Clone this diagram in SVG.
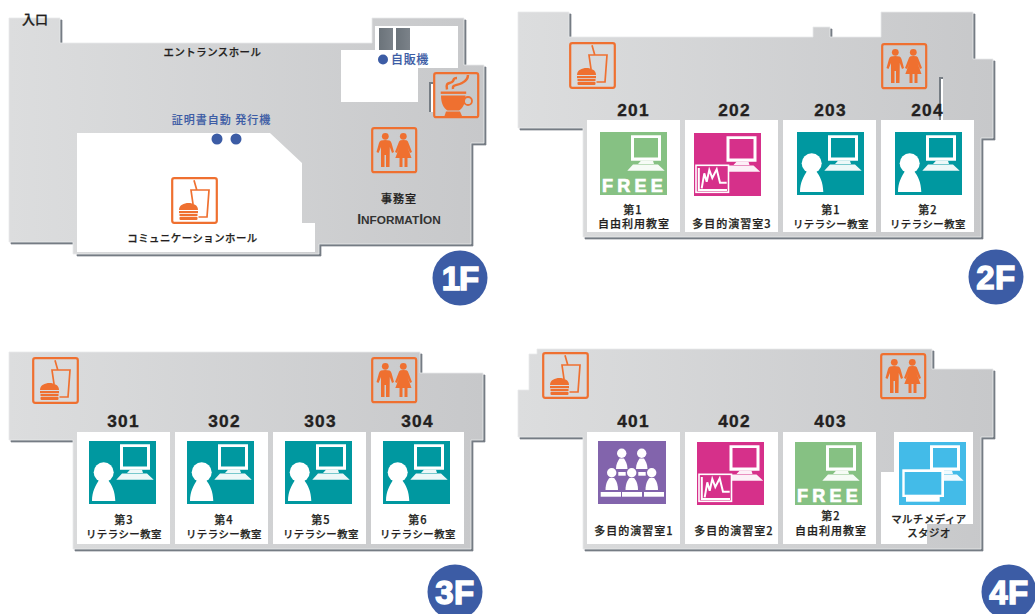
<svg xmlns="http://www.w3.org/2000/svg" xmlns:xlink="http://www.w3.org/1999/xlink" width="1035" height="614" viewBox="0 0 1035 614">
<style>
.floor{fill:url(#fg);stroke:#e9eaeb;stroke-width:.8}
.shadow{fill:#767d84;stroke:#767d84;stroke-width:.7}
.room{fill:#fff}
.frame{fill:none;stroke:#ef7030;stroke-width:2.2}
.or{fill:#ef7030}
.orl{fill:none;stroke:#ef7030;stroke-width:1.7}
.wl{fill:#fff}
text{font-family:"Noto Sans CJK JP","Liberation Sans",sans-serif;fill:#231f20;stroke:#231f20;stroke-width:.25;text-anchor:middle;font-weight:500}
.num{font-family:"Liberation Sans",Arial,sans-serif;font-weight:700;font-size:17.3px;letter-spacing:1.2px;stroke-width:.35}
.lb{font-size:11px;letter-spacing:1px}
.kt{font-size:10.4px;letter-spacing:.5px}
.blue{fill:#3c5ca5;stroke:#3c5ca5;stroke-width:.15}
.free{font-family:"Liberation Sans",Arial,sans-serif;font-weight:700;font-size:18px;letter-spacing:4.2px;fill:#fff;stroke:#fff;stroke-width:.7}
.badge{font-family:"Liberation Sans",Arial,sans-serif;font-weight:700;font-size:33px;letter-spacing:.5px;fill:#fff;stroke:#fff;stroke-width:1.4}
.info{font-family:"Liberation Sans",Arial,sans-serif;font-weight:700;font-size:11.8px;fill:#333;stroke:none}
.dot{fill:#3c5ca5}
</style>
<defs>
<linearGradient id="fg" x1="0" y1="0" x2="1" y2="0"><stop offset="0" stop-color="#dcddde"/><stop offset="1" stop-color="#c7c8ca"/></linearGradient>
<linearGradient id="vm" x1="0" y1="0" x2="1" y2="0"><stop offset="0" stop-color="#6b737a"/><stop offset="1" stop-color="#7b8289"/></linearGradient>
<symbol id="burger" width="47" height="47" viewBox="0 0 47 47">
<rect class="frame" x="1.2" y="1.2" width="44.6" height="44.6" rx="2"/>
<path class="orl" d="M23,3.3L25.7,12.7M22,27L20,13H38L36,40H27.5"/>
<path class="or" d="M8,33C8,28 13,26 17.5,26C22,26 27,28 27,33Z"/>
<rect class="or" x="8" y="34" width="19" height="2.2"/>
<rect class="or" x="8.5" y="37" width="18" height="2"/>
<rect class="or" x="8.5" y="39.8" width="18" height="3.2" rx="1"/>
</symbol>
<symbol id="wc" width="47" height="47" viewBox="0 0 47 47">
<rect class="frame" x="1.2" y="1.2" width="44" height="44" rx="2"/>
<circle class="or" cx="14.3" cy="9.3" r="3.4"/><circle class="or" cx="32.3" cy="9.3" r="3.4"/>
<path class="or" d="M10,13.5Q14,12.5 18.5,13.5Q20,14 20.5,16L23,25L21,26L18.8,20L18.5,40H15V28H13.5V40H10V20L7.5,26L5.5,25L8,16Q8.5,14 10,13.5Z"/>
<path class="or" d="M29.5,13.3Q32.3,12.5 35.5,13.3Q37,14 37.5,16L41,25L39,26L36.5,20L40.5,31H36.5V40H33.5V31H31.5V40H28.5V31H24.3L28.5,20L26,26L24,25L27.5,16Q28,14 29.5,13.3Z"/>
</symbol>
<symbol id="coffee" width="47" height="47" viewBox="0 0 47 47">
<rect class="frame" x="1.2" y="1.2" width="44" height="44" rx="2"/>
<rect class="or" x="7.7" y="19.5" width="25.5" height="2.4"/>
<path class="or" d="M8,23.5H32.5C32.5,31 30,36 26,38.5H14.5C10.5,36 8,31 8,23.5Z"/>
<path class="or" d="M13,39.5H27L29,44H11.5Z"/>
<circle cx="35" cy="29" r="4" fill="none" stroke="#ef7030" stroke-width="1.8"/>
<path d="M14,17.5C12.5,10 16,12 19,10C22,8 19,6 24,6M20,17C19,12 24,14 29,11C33,9 35,7 35,3" fill="none" stroke="#ef7030" stroke-width="2.5"/>
</symbol>
<g id="pc" class="wl"><path fill-rule="evenodd" d="M31,3.3H61V28.7H31ZM34,6V25.5H58V6Z"/><path d="M41,28.7H53L54,32H38ZM33,32.5H58L64.7,38.7H27.3Z" opacity=".93"/></g>
<symbol id="teal" width="67" height="63" viewBox="0 0 67 63">
<rect width="67" height="63" fill="#0098a0"/><use xlink:href="#pc" href="#pc" fill="#fff"/>
<circle class="wl" cx="14.7" cy="31.3" r="10"/>
<path class="wl" d="M3,60C3,50 7,44 10,39H19C23,44 26,50 26.3,60Z"/>
</symbol>
<symbol id="green" width="67" height="63" viewBox="0 0 67 63">
<rect width="67" height="63" fill="#86c183"/><use xlink:href="#pc" href="#pc" fill="#fff"/>
</symbol>
<symbol id="pink" width="67" height="63" viewBox="0 0 67 63">
<rect width="67" height="63" fill="#d6308a"/><use xlink:href="#pc" href="#pc" x="1.5" fill="#fff"/>
<rect x="2" y="32.3" width="32.5" height="27" fill="#d6308a" stroke="#fff" stroke-width="1.6"/>
<path d="M4.800,35V57H33M7.700,55.300L10.300,40.300L12.700,48.700L15.300,37L18.300,45L22.700,36.300L26,49.700H32.700" fill="none" stroke="#fff" stroke-width="2"/>
</symbol>
<symbol id="purple" width="68" height="63" viewBox="0 0 68 63">
<rect width="68" height="63" fill="#8264ac"/>
<g class="wl">
<circle cx="23.7" cy="12.3" r="4.7"/><circle cx="43.7" cy="12.3" r="4.7"/>
<path d="M18,28C18,23 20,20 21.5,17.5H26C27.5,20 29.5,23 29.5,28Z"/><path d="M38,28C38,23 40,20 41.5,17.5H46C47.5,20 49.5,23 49.5,28Z"/>
<rect x="20.3" y="31" width="7.4" height="3.7"/><rect x="40.3" y="31" width="7.4" height="3.7"/>
<circle cx="13.7" cy="31.7" r="4.7"/><circle cx="33.7" cy="31.7" r="4.7"/><circle cx="53.7" cy="31.7" r="4.7"/>
<path d="M7.5,49C7.5,43 9.5,39 11.5,37H16C18,39 20,43 20,49Z"/><path d="M27.5,49C27.5,43 29.5,39 31.5,37H36C38,39 40,43 40,49Z"/><path d="M47.5,49C47.5,43 49.5,39 51.5,37H56C58,39 60,43 60,49Z"/>
<rect x="2.7" y="51" width="20.3" height="4.7"/><rect x="24" y="51" width="20" height="4.7"/><rect x="46" y="51" width="20" height="4.7"/>
</g>
</symbol>
<symbol id="sky" width="67" height="63" viewBox="0 0 67 63">
<rect width="67" height="63" fill="#43bbe8"/><use xlink:href="#pc" href="#pc" fill="#fff"/>
<rect x="3.3" y="27.3" width="41.7" height="27.7" fill="#fff"/><rect x="5.7" y="30" width="36.6" height="22.7" fill="#43bbe8"/>
<rect x="7" y="55" width="33.7" height="4.7" fill="#fff"/>
</symbol>
</defs>

<g id="floor1">
<path id="f1s" class="shadow" d="M11,20H62V45H374V20H466V67H486V145H473V246H321V256H77V244H11Z"/>
<path class="floor" d="M9,18H60V43H372V18H464V65H484V143H471V244H319V254H73V242H9Z"/>
<path class="room" d="M77,133H270L302,163V223H315V252H77Z"/>
<path class="room" d="M341,50H375V26H458V68H418V102H341Z"/>
<path d="M433,83H430V112" fill="none" stroke="#767d84" stroke-width="2"/>
<rect x="431" y="84" width="2" height="28" fill="#fff"/>
<g id="vending"><rect x="379" y="28" width="14" height="22" fill="url(#vm)"/><rect x="396" y="28" width="14" height="22" fill="url(#vm)"/><circle class="dot" cx="383" cy="59.5" r="5"/><text class="blue" x="410" y="64" font-size="12" letter-spacing=".7">自販機</text></g>
<g id="certificate"><text class="blue" x="221.500" y="124" font-size="11" letter-spacing="1">証明書自動 発行機</text><circle class="dot" cx="217" cy="139" r="5.500"/><circle class="dot" cx="236" cy="139" r="5.500"/></g>
<g id="entrance"><text x="35" y="24" font-size="13">入口</text></g>
<g id="hall"><text class="kt" x="212.500" y="56">エントランスホール</text></g>
<g id="comm"><use href="#burger" x="171" y="177"/><text class="kt" x="192.500" y="242">コミュニケーションホール</text></g>
<g id="cafe"><use href="#coffee" x="433" y="72"/></g>
<g id="wc1"><use href="#wc" x="371" y="127"/></g>
<g id="office"><text class="lb" x="399" y="203">事務室</text><text class="info" x="399" y="224"><tspan font-size="14">I</tspan>NFORMAT<tspan font-size="14">I</tspan>ON</text></g>
<g id="badge1"><circle class="dot" cx="460" cy="278" r="27.500"/><text class="badge" x="460" y="290" style="letter-spacing:-1px">1F</text></g>
</g>

<g id="floor2">
<path class="shadow" d="M520,14H571V39H815V29H832V39H883V14H975V61H995V140H983V239H585V130H520Z"/>
<path class="floor" d="M518,12H569V37H813V27H830V37H881V12H973V59H993V138H981V237H583V128H518Z"/>
<path d="M943,78H940V120" fill="none" stroke="#767d84" stroke-width="2"/><rect x="941" y="79" width="2" height="41" fill="#fff"/>
<g id="burger2"><use href="#burger" x="569" y="42"/></g>
<g id="wc2"><use href="#wc" x="881" y="43"/></g>
<g id="r201"><rect class="room" x="587" y="120" width="93" height="112"/><use href="#green" x="600" y="132"/><text class="free" x="634.500" y="191.500">FREE</text><text class="num" x="633.500" y="116">201</text><text class="lb" x="633" y="214">第1</text><text class="lb" x="634" y="228">自由利用教室</text></g>
<g id="r202"><rect class="room" x="685" y="120" width="93" height="112"/><use href="#pink" x="694" y="133"/><text class="num" x="734.500" y="116">202</text><text class="lb" x="732" y="228">多目的演習室3</text></g>
<g id="r203"><rect class="room" x="783" y="120" width="93" height="112"/><use href="#teal" x="797" y="132"/><text class="num" x="830.500" y="116">203</text><text class="lb" x="831" y="214">第1</text><text class="kt" x="831" y="228">リテラシー教室</text></g>
<g id="r204"><rect class="room" x="881" y="120" width="93" height="112"/><use href="#teal" x="895" y="132"/><text class="num" x="927.500" y="116">204</text><text class="lb" x="928" y="214">第2</text><text class="kt" x="928" y="228">リテラシー教室</text></g>
<g id="badge2"><circle class="dot" cx="996" cy="277" r="27.500"/><text class="badge" x="996" y="289">2F</text></g>
</g>

<g id="floor3">
<path class="shadow" d="M11,354H422V375H485V442H473V551H75V442H11Z"/>
<path class="floor" d="M9,352H420V373H483V440H471V549H73V440H9Z"/>
<g id="burger3"><use href="#burger" x="32" y="357"/></g>
<g id="wc3"><use href="#wc" x="371" y="357"/></g>
<g id="r301"><rect class="room" x="77" y="432" width="93" height="112"/><use href="#teal" x="89" y="441"/><text class="num" x="123.500" y="427">301</text><text class="lb" x="124" y="524">第3</text><text class="kt" x="124" y="538">リテラシー教室</text></g>
<g id="r302"><rect class="room" x="175" y="432" width="93" height="112"/><use href="#teal" x="187" y="441"/><text class="num" x="224.500" y="427">302</text><text class="lb" x="224" y="524">第4</text><text class="kt" x="224" y="538">リテラシー教室</text></g>
<g id="r303"><rect class="room" x="273" y="432" width="93" height="112"/><use href="#teal" x="285" y="441"/><text class="num" x="320.500" y="427">303</text><text class="lb" x="321" y="524">第5</text><text class="kt" x="321" y="538">リテラシー教室</text></g>
<g id="r304"><rect class="room" x="371" y="432" width="93" height="112"/><use href="#teal" x="383" y="441"/><text class="num" x="417.500" y="427">304</text><text class="lb" x="418" y="524">第6</text><text class="kt" x="418" y="538">リテラシー教室</text></g>
<g id="badge3"><circle class="dot" cx="455" cy="592" r="27.500"/><text class="badge" x="455" y="604">3F</text></g>
</g>

<g id="floor4">
<path class="shadow" d="M520,392H531V356H539V351H934V371H995V439H983V551H585V439H520Z"/>
<path class="floor" d="M518,437V390H529V354H537V349H932V369H993V437H981V549H583V437Z"/>
<g id="burger4"><use href="#burger" x="542" y="352"/></g>
<g id="wc4"><use href="#wc" x="880" y="353"/></g>
<g id="r401"><rect class="room" x="587" y="432" width="93" height="112"/><use href="#purple" x="598" y="441"/><text class="num" x="633.500" y="427">401</text><text class="lb" x="634" y="535">多目的演習室1</text></g>
<g id="r402"><rect class="room" x="685" y="432" width="93" height="112"/><use href="#pink" x="697" y="442"/><text class="num" x="734.500" y="427">402</text><text class="lb" x="734" y="535">多目的演習室2</text></g>
<g id="r403"><rect class="room" x="783" y="432" width="93" height="112"/><use href="#green" x="795" y="442"/><text class="free" x="829.500" y="501.500">FREE</text><text class="num" x="830.500" y="427">403</text><text class="lb" x="831" y="520">第2</text><text class="lb" x="831" y="535">自由利用教室</text></g>
<g id="r404"><path class="room" d="M894,432H973V524H927V544H881V472H894Z"/><use href="#sky" x="899" y="442"/><text class="kt" x="929" y="523">マルチメディア</text><text class="kt" x="929" y="537">スタジオ</text></g>
<g id="badge4"><circle class="dot" cx="1009" cy="592" r="27.500"/><text class="badge" x="1009" y="604">4F</text></g>
</g>
</svg>
